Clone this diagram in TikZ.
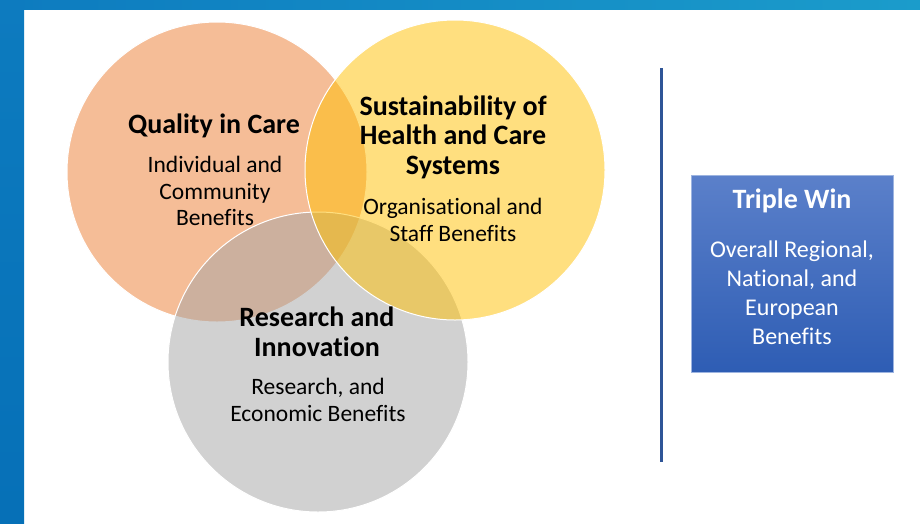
\documentclass[tikz,border=0pt]{standalone}
\usepackage{fontspec}
\setmainfont[Ligatures=NoCommon]{Carlito}
\usetikzlibrary{positioning}

\definecolor{careorange}{HTML}{ED7D31}
\definecolor{sustyellow}{HTML}{FFC000}
\definecolor{resgrey}{HTML}{A5A5A5}
\definecolor{frametop}{HTML}{0D7BBF}
\definecolor{frameend}{HTML}{1B9CCB}
\definecolor{framebot}{HTML}{0670B7}
\definecolor{winlight}{HTML}{5B80CA}
\definecolor{windark}{HTML}{2E5DB4}
\definecolor{winedge}{HTML}{9DB4E0}
\definecolor{divblue}{HTML}{2F5597}

\begin{document}
\begin{tikzpicture}[x=1pt, y=-1pt]
    % Define styles
    \tikzstyle{venn} = [circle, draw=white, line width=1pt, minimum size=300pt, fill opacity=0.5]
    \tikzstyle{title} = [align=center, font=\fontsize{28}{29.5}\selectfont\bfseries]
    \tikzstyle{benefit} = [align=center, font=\fontsize{23.5}{26.5}\selectfont]
    \tikzstyle{winbox} = [rectangle, draw=winedge, line width=1pt, top color=winlight, bottom color=windark, minimum width=202pt, minimum height=197pt]
    \tikzstyle{divider} = [divblue, line width=3pt]

    % Page and frame
    \useasboundingbox (0,0) rectangle (920,523);
    \fill[white] (0,0) rectangle (920,523);
    \shade[left color=frametop, right color=frameend] (0,0) rectangle (920,9);
    \shade[top color=frametop, bottom color=framebot] (0,0) rectangle (24,523);

    % Circles
    \node[venn, fill=careorange] (quality) at (217,172) {};
    \node[venn, fill=resgrey] (research) at (318,362) {};
    \node[venn, fill=sustyellow] (sustain) at (455,170) {};

    % Circle texts
    \node[title] (qualityTitle) at (214,126) {Quality in Care};
    \node[benefit] (qualityText) at (215,191) {Individual and\\Community\\Benefits};
    \node[title] (sustainTitle) at (453,137) {Sustainability of\\Health and Care\\Systems};
    \node[benefit] (sustainText) at (453,220) {Organisational and\\Staff Benefits};
    \node[title] (researchTitle) at (317,332) {Research and\\Innovation};
    \node[benefit] (researchText) at (318,400) {Research, and\\Economic Benefits};

    % Divider
    \coordinate (divTop) at (661,68);
    \coordinate (divBottom) at (661,462);
    \draw[divider] (divTop) -- (divBottom);

    % Triple win
    \node[winbox] (win) at (792,273.5) {};
    \node[title, text=white] (winTitle) at (792,201) {Triple Win};
    \node[benefit, text=white, font=\fontsize{24}{29}\selectfont] (winText) at (792,293) {Overall Regional,\\National, and\\European\\Benefits};
\end{tikzpicture}
\end{document}
